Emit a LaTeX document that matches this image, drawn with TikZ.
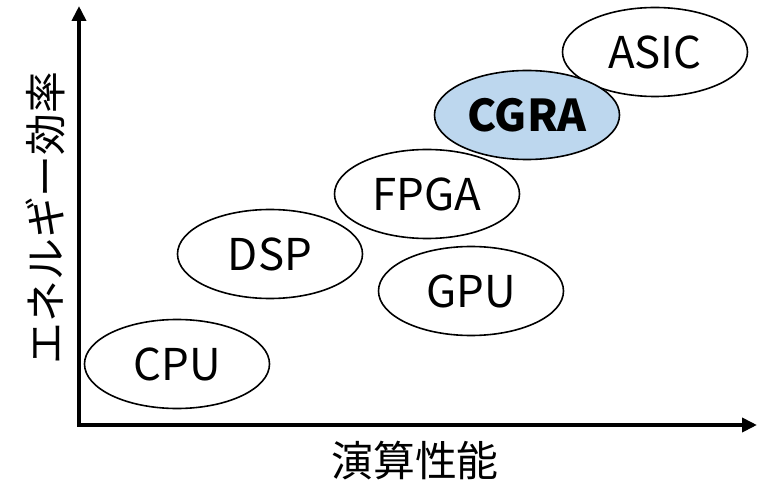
\documentclass[tikz,border=0pt]{standalone}
\usepackage{fontspec}
\setmainfont{Noto Sans CJK JP}
\usetikzlibrary{shapes.geometric,arrows.meta}
\definecolor{hilite}{RGB}{189,215,238}
\tikzset{
  arch/.style={ellipse, draw=black, line width=1.6bp, fill=white,
    minimum width=185bp, minimum height=89bp, inner sep=0pt,
    font=\fontsize{44}{44}\selectfont},
  axis/.style={line width=4bp,
    {Triangle[length=15bp,width=14bp]}-{Triangle[length=15bp,width=14bp]}},
  axislabel/.style={font=\fontsize{42}{42}\selectfont, inner sep=0pt}
}
\begin{document}
\begin{tikzpicture}[x=1bp,y=-1bp]
  \useasboundingbox (0,0) rectangle (758,483);
  % axes
  \coordinate (ytop) at (79,6);
  \coordinate (orig) at (79,425);
  \coordinate (xend) at (757,425);
  \draw[axis] (ytop) -- (orig) -- (xend);
  \node[axislabel, rotate=90] (ylab) at (45,218) {エネルギー効率};
  \node[axislabel] (xlab) at (415,461) {演算性能};
  % architectures
  \node[arch] (cpu)  at (177,364) {CPU};
  \node[arch] (dsp)  at (270,254) {DSP};
  \node[arch] (gpu)  at (471,291) {GPU};
  \node[arch] (fpga) at (427,194) {FPGA};
  \node[arch] (asic) at (655,52)  {ASIC};
  \node[arch, fill=hilite, font=\fontsize{44}{44}\selectfont\bfseries] (cgra) at (527,115) {CGRA};
\end{tikzpicture}
\end{document}
